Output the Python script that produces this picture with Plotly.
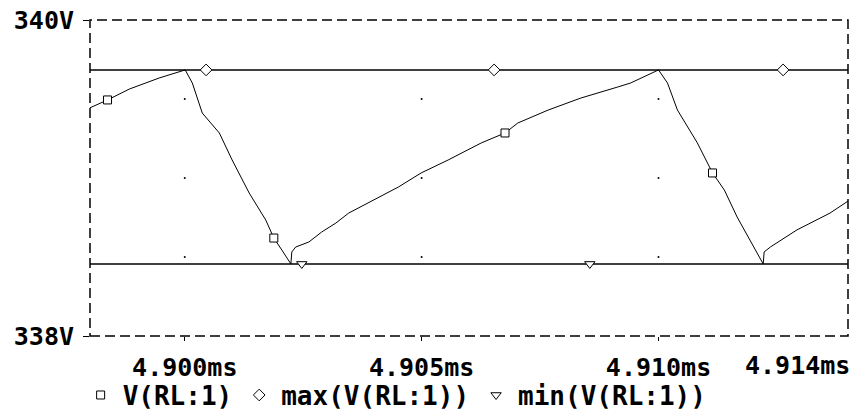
import plotly.graph_objects as go

# waveform V(RL:1): time in ms, volts
TIME_MS = [4.89799, 4.89837, 4.89883, 4.89946, 4.90001, 4.90016, 4.90037, 4.90073,
           4.90100, 4.90136, 4.90171, 4.90188, 4.90205, 4.90224, 4.90226, 4.90234,
           4.90262, 4.90289, 4.90319, 4.90346, 4.90451, 4.90499, 4.90556, 4.90626,
           4.90676, 4.90703, 4.90767, 4.90836, 4.90914, 4.90941, 4.91000, 4.91019,
           4.91040, 4.91061, 4.91082, 4.91114, 4.91139, 4.91166, 4.91202, 4.91221,
           4.91223, 4.91236, 4.91292, 4.91362, 4.91400]
VOLTS = [339.443, 339.494, 339.563, 339.633, 339.684, 339.601, 339.411, 339.285,
         339.114, 338.905, 338.734, 338.620, 338.544, 338.456, 338.532, 338.563,
         338.595, 338.658, 338.715, 338.778, 338.943, 339.032, 339.114, 339.222,
         339.285, 339.348, 339.430, 339.506, 339.576, 339.601, 339.684, 339.601,
         339.430, 339.323, 339.222, 339.032, 338.924, 338.753, 338.563, 338.456,
         338.532, 338.563, 338.671, 338.778, 338.854]

# where the probe drew its symbols
V_MARK_IDX = [1, 11, 24, 35]
MAX_MARK_T = [4.90045, 4.90653, 4.91263]
MIN_MARK_T = [4.90247, 4.90855]

X_RANGE = [4.898, 4.914]
Y_RANGE = [338, 340]
X_TICKS = [4.900, 4.905, 4.910]
X_TICKTEXT = ["4.900ms", "4.905ms", "4.910ms"]
Y_TICKS = [338, 340]
Y_TICKTEXT = ["338V", "340V"]
GRID_X = [4.900, 4.905, 4.910]
GRID_Y = [338.5, 339.0, 339.5]

FONT = dict(family="DejaVu Sans Mono", size=25, color="black", weight="bold")
LEGEND_FONT = dict(FONT, size=26)

vmax = max(VOLTS)
vmin = min(VOLTS)

fig = go.Figure()

# grid is only dots at the intersections
gx = [x for x in GRID_X for _ in GRID_Y]
gy = [y for _ in GRID_X for y in GRID_Y]
fig.add_trace(go.Scatter(x=gx, y=gy, mode="markers",
                         marker=dict(size=2, color="black"),
                         showlegend=False, hoverinfo="skip"))

fig.add_trace(go.Scatter(x=X_RANGE, y=[vmax, vmax], mode="lines",
                         line=dict(color="black", width=1.5), showlegend=False))
fig.add_trace(go.Scatter(x=X_RANGE, y=[vmin, vmin], mode="lines",
                         line=dict(color="black", width=1.5), showlegend=False))
fig.add_trace(go.Scatter(x=TIME_MS, y=VOLTS, mode="lines",
                         line=dict(color="black", width=1), showlegend=False))

mk_line = dict(color="black", width=1)
fig.add_trace(go.Scatter(
    x=[TIME_MS[i] for i in V_MARK_IDX], y=[VOLTS[i] for i in V_MARK_IDX],
    mode="markers", name="V(RL:1)",
    marker=dict(symbol="square", size=8, color="white", line=mk_line)))
fig.add_trace(go.Scatter(
    x=MAX_MARK_T, y=[vmax] * len(MAX_MARK_T),
    mode="markers", name="max(V(RL:1))",
    marker=dict(symbol="diamond", size=9, color="white", line=mk_line)))
fig.add_trace(go.Scatter(
    x=MIN_MARK_T, y=[vmin] * len(MIN_MARK_T),
    mode="markers", name="min(V(RL:1))",
    marker=dict(symbol="triangle-down", size=9, color="white", line=mk_line)))

# dashed frame
fig.add_shape(type="rect", xref="paper", yref="paper", x0=0, x1=1, y0=0, y1=1,
              line=dict(color="black", width=1.5, dash="10px,5px"))

# last time label sits flush with the right edge
fig.add_annotation(x=X_RANGE[1], y=0, xref="x", yref="paper",
                   text="4.914ms", showarrow=False, xanchor="right", yanchor="top",
                   yshift=-13, xshift=4, font=FONT)

fig.update_xaxes(range=X_RANGE, tickmode="array", tickvals=X_TICKS, ticktext=X_TICKTEXT,
                 ticks="outside", ticklen=4, tickcolor="black", tickfont=FONT,
                 ticklabelstandoff=5, ticklabeloverflow="allow",
                 showgrid=False, zeroline=False, showline=False, automargin=False)
fig.update_yaxes(range=Y_RANGE, tickmode="array", tickvals=Y_TICKS, ticktext=Y_TICKTEXT,
                 ticks="outside", ticklen=6, tickcolor="black", tickfont=FONT,
                 ticklabelstandoff=4, ticklabeloverflow="allow",
                 showgrid=False, zeroline=False, showline=False, automargin=False)

fig.update_layout(
    width=855, height=419,
    margin=dict(l=90, r=7, t=20, b=83, autoexpand=False),
    plot_bgcolor="white", paper_bgcolor="white",
    showlegend=True,
    legend=dict(orientation="h", x=-0.015, xanchor="left", y=-0.187, yanchor="middle",
                font=LEGEND_FONT, bgcolor="rgba(0,0,0,0)", itemwidth=34,
                tracegroupgap=0),
)

# drop the page's default 8px body margin so the figure fills the window
fig.write_html("out.html", config={"displayModeBar": False},
               post_script="document.body.style.margin = '0px';")
